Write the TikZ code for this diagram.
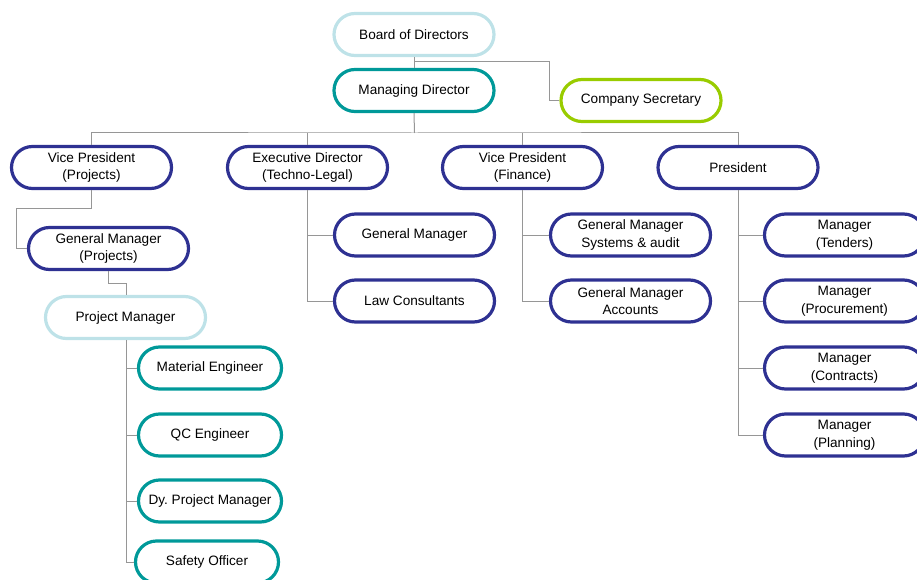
\documentclass[tikz,border=0pt]{standalone}
\usepackage{fontspec}
\setmainfont{Liberation Sans}
\definecolor{navy}{RGB}{46,49,146}
\definecolor{teal}{RGB}{0,153,153}
\definecolor{paleblue}{RGB}{190,226,232}
\definecolor{lime}{RGB}{153,204,0}
\definecolor{wire}{RGB}{150,150,150}
\begin{document}
\begin{tikzpicture}[x=1pt,y=-1pt]
\tikzstyle{post}=[draw,line width=3.2pt,rounded corners=21pt,minimum width=160pt,minimum height=42pt,inner sep=1pt,align=center,font=\fontsize{13.6}{17.5}\selectfont]
\tikzstyle{navybox}=[post,draw=navy]
\tikzstyle{tealbox}=[post,draw=teal]
\tikzstyle{palebox}=[post,draw=paleblue]
\tikzstyle{limebox}=[post,draw=lime]
\tikzstyle{smallbox}=[tealbox,minimum width=143pt]
\tikzstyle{conn}=[draw=wire,line width=1pt]
\useasboundingbox (0,0) rectangle (917,580);
% top
\node[palebox] at (414,34.5) (board) {Board of Directors};
\node[tealbox] at (414,90.5) (md) {Managing Director};
\node[limebox] at (641,100.5) (cs) {Company Secretary};
% second level
\node[navybox] at (91.5,167.5) (vpp) {Vice President\\(Projects)};
\node[navybox] at (307.5,167.5) (ed) {Executive Director\\(Techno-Legal)};
\node[navybox] at (522.5,167.5) (vpf) {Vice President\\(Finance)};
\node[navybox] at (738,167.5) (pres) {President};
% projects
\node[navybox] at (108.5,248.5) (gmp) {General Manager\\(Projects)};
\node[palebox] at (125.5,317.5) (pm) {Project Manager};
\node[smallbox] at (210,368) (mateng) {Material Engineer};
\node[smallbox] at (210,435) (qceng) {QC Engineer};
\node[smallbox] at (210,501) (dypm) {Dy.\ Project Manager};
\node[smallbox] at (207,562) (safety) {Safety Officer};
% techno-legal
\node[navybox] at (414.5,235) (gmtl) {General Manager};
\node[navybox] at (414.5,301) (law) {Law Consultants};
% finance
\node[navybox] at (630.5,235) (gmsys) {General Manager\\Systems \& audit};
\node[navybox] at (630.5,301) (gmacc) {General Manager\\Accounts};
% president
\node[navybox] at (844.5,235) (mtend) {Manager\\(Tenders)};
\node[navybox] at (844.5,301) (mproc) {Manager\\(Procurement)};
\node[navybox] at (844.5,368) (mcont) {Manager\\(Contracts)};
\node[navybox] at (844.5,435) (mplan) {Manager\\(Planning)};
% bend points
\coordinate (split) at (414.5,62);
\coordinate (csbend) at (549.5,62);
\coordinate (bus) at (414.5,133);
\coordinate (vppbend) at (16.5,208);
\coordinate (gmpbend) at (126.5,283);
\draw[conn] (board.south) -- (md.north);
\draw[conn] (split) -- (csbend) |- (cs.west);
\draw[conn] (md.south) -- (bus);
\draw[conn] (vpp.north) |- (bus) -| (pres.north);
\draw[conn] (ed.north) -- (ed.north |- bus);
\draw[conn] (vpf.north) -- (vpf.north |- bus);
\draw[conn] (vpp.south) |- (vppbend) |- (gmp.west);
\draw[conn] (gmp.south) |- (gmpbend) -- (gmpbend |- pm.north);
\draw[conn] (gmpbend |- pm.south) |- (mateng.west);
\draw[conn] (gmpbend |- pm.south) |- (qceng.west);
\draw[conn] (gmpbend |- pm.south) |- (dypm.west);
\draw[conn] (gmpbend |- pm.south) |- (safety.west);
\draw[conn] (ed.south) |- (gmtl.west);
\draw[conn] (ed.south) |- (law.west);
\draw[conn] (vpf.south) |- (gmsys.west);
\draw[conn] (vpf.south) |- (gmacc.west);
\draw[conn] (pres.south) |- (mtend.west);
\draw[conn] (pres.south) |- (mproc.west);
\draw[conn] (pres.south) |- (mcont.west);
\draw[conn] (pres.south) |- (mplan.west);
\end{tikzpicture}
\end{document}
